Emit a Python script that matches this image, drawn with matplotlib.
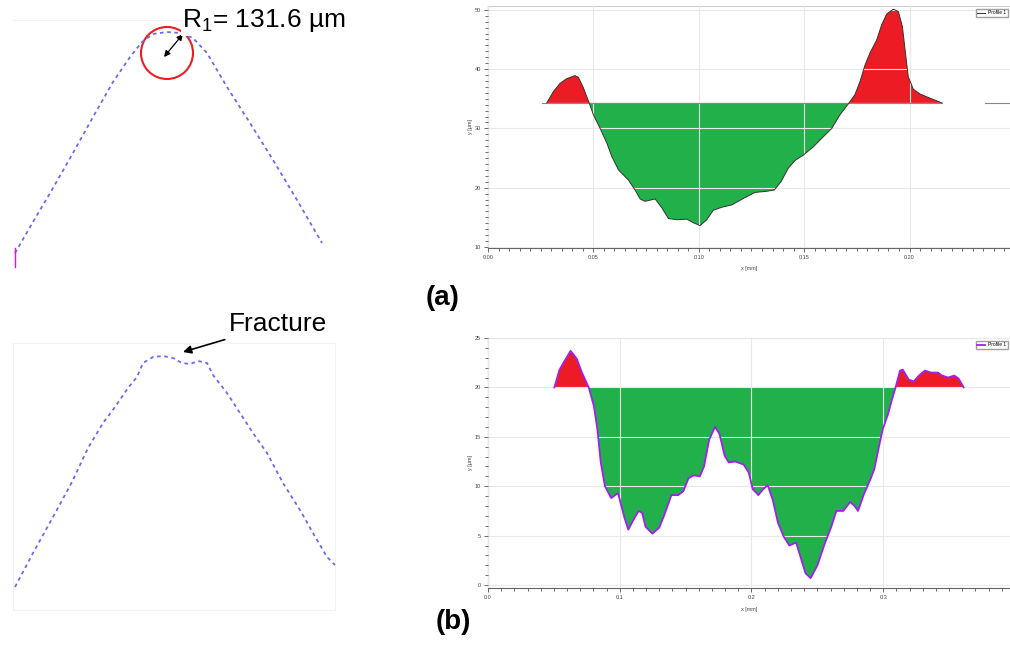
import numpy as np
import matplotlib.pyplot as plt
from matplotlib.patches import Circle
from matplotlib.ticker import MultipleLocator

plt.rcParams["font.family"] = ["Liberation Sans", "DejaVu Sans"]
plt.rcParams["mathtext.default"] = "regular"

# profile (a): x [mm], y [um]
xa = [0.0279, 0.0310, 0.0342, 0.0374, 0.0413, 0.0429, 0.0453, 0.0480, 0.0500,
      0.0532, 0.0564, 0.0587, 0.0619, 0.0666, 0.0698, 0.0722, 0.0745, 0.0793,
      0.0825, 0.0856, 0.0896, 0.0943, 0.0974, 0.1006, 0.1038, 0.1069, 0.1109,
      0.1157, 0.1212, 0.1267, 0.1323, 0.1358, 0.1390, 0.1425, 0.1457, 0.1496,
      0.1544, 0.1591, 0.1631, 0.1670, 0.1713, 0.1741, 0.1765, 0.1789, 0.1812,
      0.1844, 0.1868, 0.1892, 0.1923, 0.1947, 0.1966, 0.1979, 0.1994, 0.2018,
      0.2050, 0.2097, 0.2153]
ya = [34.3, 36.2, 37.6, 38.4, 38.9, 38.6, 36.8, 34.3, 32.3,
      30.0, 27.5, 25.3, 23.0, 21.3, 19.6, 18.1, 17.7, 18.1,
      16.6, 14.8, 14.6, 14.7, 14.1, 13.6, 14.6, 16.2, 16.7,
      17.1, 18.2, 19.2, 19.4, 19.6, 21.0, 23.3, 24.6, 25.5,
      26.9, 28.6, 30.0, 32.3, 34.3, 35.7, 37.9, 40.7, 42.7,
      44.9, 47.5, 49.3, 50.1, 49.7, 47.2, 43.2, 38.7, 36.6,
      35.8, 35.1, 34.3]
base_a = 34.3
ref_a = [(0.0255, 0.2153), (0.236, 0.26)]

# profile (b)
xb = [0.0504, 0.0543, 0.0582, 0.0627, 0.0674, 0.0713, 0.0765, 0.0804, 0.0830,
      0.0856, 0.0888, 0.0935, 0.0987, 0.1034, 0.1065, 0.1104, 0.1144, 0.1170,
      0.1196, 0.1248, 0.1300, 0.1339, 0.1392, 0.1444, 0.1483, 0.1522, 0.1561,
      0.1608, 0.1640, 0.1679, 0.1723, 0.1757, 0.1796, 0.1828, 0.1875, 0.1940,
      0.1979, 0.2010, 0.2052, 0.2089, 0.2123, 0.2162, 0.2201, 0.2245, 0.2287,
      0.2339, 0.2371, 0.2410, 0.2449, 0.2501, 0.2554, 0.2606, 0.2645, 0.2697,
      0.2749, 0.2783, 0.2809, 0.2854, 0.2906, 0.2932, 0.2971, 0.2997, 0.3037,
      0.3063, 0.3094, 0.3128, 0.3149, 0.3193, 0.3232, 0.3272, 0.3316, 0.3363,
      0.3415, 0.3446, 0.3493, 0.3540, 0.3572, 0.3611]
yb = [20.0, 21.8, 22.7, 23.7, 22.9, 21.5, 20.0, 18.1, 15.8,
      12.4, 10.0, 8.8, 9.3, 6.9, 5.6, 6.6, 7.5, 7.3,
      5.9, 5.2, 5.8, 7.1, 9.1, 9.1, 9.5, 10.8, 11.1,
      11.0, 12.0, 14.7, 16.0, 15.3, 13.1, 12.4, 12.5, 12.2,
      11.4, 9.7, 9.1, 9.7, 10.1, 8.6, 6.3, 4.9, 4.0,
      4.3, 2.9, 1.2, 0.7, 2.0, 4.1, 5.9, 7.5, 7.5,
      8.4, 8.0, 7.5, 9.2, 10.8, 11.7, 14.2, 15.8, 17.3,
      18.6, 20.0, 21.7, 21.8, 20.8, 20.6, 21.2, 21.7, 21.5,
      21.5, 21.2, 21.0, 21.2, 20.9, 20.0]
base_b = 20.0

# tip outlines (image pixels)
tip1_x = [15, 33, 53, 73, 93, 113, 130, 142, 153, 167, 180, 193, 207, 227, 250, 273, 297, 322]
tip1_y = [253, 222, 188, 153, 117, 82, 57, 42, 34, 32, 33, 38, 53, 87, 123, 160, 200, 243]
tip2_x = [15, 33, 53, 72, 88, 103, 115, 128, 137, 143, 153, 163, 173, 182, 190, 198,
          207, 213, 227, 240, 253, 267, 283, 300, 313, 327, 335]
tip2_y = [587, 553, 517, 482, 448, 423, 407, 388, 377, 363, 357, 356, 358, 363, 364, 361,
          363, 375, 393, 413, 433, 453, 483, 510, 533, 557, 565]

W, H = 1010, 646
fig = plt.figure(figsize=(W / 100, H / 100), dpi=100)


def px_axes(left, top, right, bottom):
    return fig.add_axes([left / W, 1 - bottom / H, (right - left) / W, (bottom - top) / H])


def style_axes(ax, xmajor, xminor, ymajor, yminor, fmt):
    ax.xaxis.set_major_locator(MultipleLocator(xmajor))
    ax.xaxis.set_minor_locator(MultipleLocator(xminor))
    ax.yaxis.set_major_locator(MultipleLocator(ymajor))
    ax.yaxis.set_minor_locator(MultipleLocator(yminor))
    ax.xaxis.set_major_formatter(fmt)
    ax.tick_params(which="both", direction="out", labelsize=4, colors="#555555",
                   labelcolor="#444444", width=0.6, pad=2)
    ax.tick_params(which="major", length=3)
    ax.tick_params(which="minor", length=2)
    ax.spines["right"].set_visible(False)
    ax.spines["top"].set_color("#cccccc")
    ax.spines["left"].set_color("#666666")
    ax.spines["bottom"].set_color("#666666")
    ax.grid(True, which="major", color="#e8e8e8", lw=0.8)
    ax.set_axisbelow(False)
    ax.set_xlabel("x [mm]", fontsize=4, color="#444444")
    ax.set_ylabel("y [µm]", fontsize=4, color="#444444")
    ax.xaxis.set_label_coords(0.476, -0.075)
    ax.yaxis.set_label_coords(-0.027, 0.5)


def profile_legend(ax, top):
    ax.legend(loc="upper right", bbox_to_anchor=(1008 / W, 1 - top / H),
              bbox_transform=fig.transFigure, fontsize=3.5, frameon=True,
              fancybox=False, edgecolor="#888888", handlelength=1.5,
              borderpad=0.3, borderaxespad=0)


# (a) profile
ax1 = px_axes(488, 6, 1036, 248)
ax1.fill_between(xa, ya, base_a, where=np.array(ya) >= base_a, interpolate=True,
                 color="#ed1c24", lw=0, zorder=1)
ax1.fill_between(xa, ya, base_a, where=np.array(ya) <= base_a, interpolate=True,
                 color="#22b04b", lw=0, zorder=1)
for x0, x1 in ref_a:
    ax1.plot([x0, x1], [base_a, base_a], color="#888888", lw=0.8, zorder=2.8)
ax1.plot(xa, ya, color="#333333", lw=0.7, zorder=3, label="Profile 1")
ax1.set_xlim(0, 0.26)
ax1.set_ylim(9.83, 50.64)
style_axes(ax1, 0.05, 0.005, 10, 1, "{x:.2f}")
profile_legend(ax1, 9)

# (b) profile
ax2 = px_axes(488, 338, 1036, 588)
ax2.fill_between(xb, yb, base_b, where=np.array(yb) >= base_b, interpolate=True,
                 color="#ed1c24", lw=0, zorder=1)
ax2.fill_between(xb, yb, base_b, where=np.array(yb) <= base_b, interpolate=True,
                 color="#22b04b", lw=0, zorder=1)
ax2.plot(xb, yb, color="#a020f0", lw=1.3, zorder=3, label="Profile 1")
ax2.set_xlim(0, 0.416)
ax2.set_ylim(-0.3, 25.0)
style_axes(ax2, 0.1, 0.01, 5, 1, "{x:.1f}")
profile_legend(ax2, 341)

# tip outlines on a pixel-space overlay
ov = fig.add_axes([0, 0, 1, 1])
ov.set_xlim(0, W)
ov.set_ylim(H, 0)
ov.axis("off")
ov.patch.set_alpha(0)

ov.plot([13, 182], [20, 20], color="#f2f2f2", lw=0.8)
ov.plot([13, 335, 335, 13, 13], [343, 343, 610, 610, 343], color="#f2f2f2", lw=0.8)

ov.plot(tip1_x, tip1_y, color="#6a6af2", lw=1.3, ls=(0, (2, 2)))
ov.plot(tip2_x, tip2_y, color="#6a6af2", lw=1.3, ls=(0, (2, 2)))
ov.plot([15, 15], [248, 267], color="#ff00ff", lw=1)

ov.add_patch(Circle((167, 53), 26, fill=False, ec="#ee1c24", lw=1.5))
ov.annotate("", xy=(183, 34), xytext=(164, 57),
            arrowprops=dict(arrowstyle="<|-|>", color="black", lw=0.9,
                            mutation_scale=9, shrinkA=0, shrinkB=0))
ov.text(182, 21, r"R$_1$= 131.6 µm", fontsize=19, va="center", ha="left",
        bbox=dict(facecolor="white", edgecolor="none", pad=1))

ov.annotate("Fracture", xy=(183, 352), xytext=(229, 324), fontsize=19,
            va="center", ha="left",
            arrowprops=dict(arrowstyle="-|>", color="black", lw=1.2,
                            mutation_scale=12, shrinkA=2, shrinkB=0,
                            relpos=(0.08, 0.0)))

ov.text(443, 298, "(a)", fontsize=20, fontweight="bold", ha="center", va="center")
ov.text(453, 622, "(b)", fontsize=20, fontweight="bold", ha="center", va="center")

fig.savefig("out.png", dpi=100)
